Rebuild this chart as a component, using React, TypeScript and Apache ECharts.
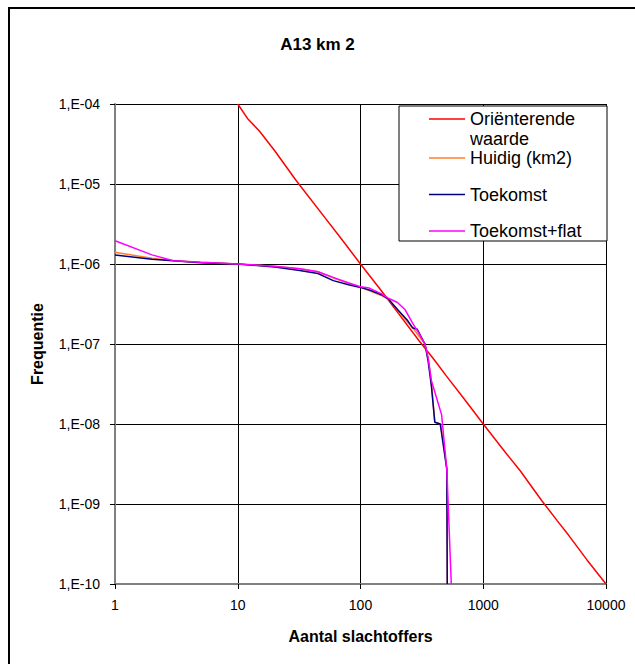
import React, { useEffect, useRef } from "react";
import * as echarts from "echarts";

const seriesNames = ["Oriënterende waarde", "Huidig (km2)", "Toekomst", "Toekomst+flat"];
const seriesColors = ["#FF0000", "#FF7F27", "#000080", "#FF00FF"];

const orienterend: [number, number][] = [
  [10, 1e-4], [12, 6.6e-5], [15, 4.6e-5], [20, 2.6e-5], [30, 1.1e-5], [50, 4e-6], [70, 2.05e-6],
  [100, 1e-6], [150, 4.5e-7], [200, 2.5e-7], [300, 1.1e-7], [400, 6.3e-8], [500, 4e-8], [700, 2.05e-8],
  [1000, 1e-8], [1500, 4.5e-9], [2000, 2.6e-9], [3000, 1.1e-9], [4000, 6.2e-10], [5000, 4e-10],
  [7000, 2e-10], [10000, 1e-10],
];

const huidig: [number, number][] = [
  [1, 1.4e-6], [2, 1.18e-6], [3, 1.1e-6], [5, 1.05e-6], [10, 1.0e-6], [20, 0.93e-6], [32, 0.87e-6],
  [45, 0.8e-6], [60, 0.67e-6], [80, 0.58e-6], [100, 0.51e-6], [120, 0.46e-6], [150, 0.4e-6],
  [170, 0.36e-6], [200, 0.27e-6], [240, 0.19e-6], [270, 0.155e-6], [300, 0.125e-6], [335, 1e-7],
  [360, 6e-8], [380, 3e-8], [403, 1.05e-8], [450, 1e-8], [505, 2.8e-9], [509, 1e-10],
];

const toekomst: [number, number][] = [
  [1, 1.3e-6], [2, 1.15e-6], [3, 1.1e-6], [5, 1.04e-6], [10, 1.0e-6], [20, 0.92e-6], [32, 0.83e-6],
  [45, 0.76e-6], [60, 0.62e-6], [80, 0.55e-6], [100, 0.51e-6], [120, 0.47e-6], [150, 0.41e-6],
  [170, 0.36e-6], [200, 0.27e-6], [240, 0.2e-6], [265, 0.16e-6], [290, 0.153e-6], [335, 1e-7],
  [355, 6.2e-8], [378, 3e-8], [403, 1.05e-8], [446, 1e-8], [505, 2.7e-9], [509, 1e-10],
];

const toekomstFlat: [number, number][] = [
  [1, 1.95e-6], [2, 1.3e-6], [3, 1.1e-6], [5, 1.05e-6], [10, 1.0e-6], [20, 0.94e-6], [32, 0.87e-6],
  [45, 0.8e-6], [60, 0.68e-6], [80, 0.58e-6], [100, 0.52e-6], [118, 0.5e-6], [150, 0.42e-6],
  [170, 0.37e-6], [185, 0.35e-6], [200, 0.33e-6], [230, 0.27e-6], [268, 0.178e-6], [300, 0.135e-6],
  [335, 1e-7], [355, 6.8e-8], [378, 3.5e-8], [458, 1.3e-8], [505, 2.7e-9], [549, 1e-10],
];

const seriesData = [orienterend, huidig, toekomst, toekomstFlat];

const FONT = "'Liberation Sans', Arial, sans-serif";

export default function App() {
  const ref = useRef<HTMLDivElement>(null);
  useEffect(() => {
    if (!ref.current) return;
    const chart = echarts.init(ref.current, null, { renderer: "svg" });
    chart.setOption({
      animation: false,
      backgroundColor: "#fff",
      textStyle: { fontFamily: FONT },
      title: {
        text: "A13 km 2",
        left: "center",
        top: 31,
        textStyle: { fontFamily: FONT, fontSize: 17, fontWeight: "bold", color: "#000" },
      },
      grid: { left: 115, right: 29, top: 104, bottom: 80 },
      xAxis: {
        type: "log",
        logBase: 10,
        min: 1,
        max: 10000,
        name: "Aantal slachtoffers",
        nameLocation: "middle",
        nameGap: 44,
        nameTextStyle: { fontFamily: FONT, fontSize: 16, fontWeight: "bold", color: "#000" },
        axisLine: { show: true, lineStyle: { color: "#808080", width: 2 } },
        axisTick: { show: true, length: 5, lineStyle: { color: "#000" } },
        axisLabel: {
          margin: 14,
          fontFamily: FONT,
          fontSize: 14,
          color: "#000",
          formatter: (v: number) => String(Math.round(v)),
        },
        splitLine: { show: true, lineStyle: { color: "#000", width: 1 } },
      },
      yAxis: {
        type: "log",
        logBase: 10,
        min: 1e-10,
        max: 1e-4,
        name: "Frequentie",
        nameLocation: "middle",
        nameGap: 70,
        nameTextStyle: { fontFamily: FONT, fontSize: 16, fontWeight: "bold", color: "#000" },
        axisLine: { show: true, lineStyle: { color: "#808080", width: 2 } },
        axisTick: { show: true, length: 5, lineStyle: { color: "#000" } },
        axisLabel: {
          margin: 15,
          fontFamily: FONT,
          fontSize: 14,
          color: "#000",
          formatter: (v: number) => {
            const e = Math.round(-Math.log10(v));
            return "1,E-" + String(e).padStart(2, "0");
          },
        },
        splitLine: { show: true, lineStyle: { color: "#000", width: 1 } },
      },
      legend: [
        {
          data: [seriesNames[0]],
          orient: "vertical",
          left: 429,
          top: 89,
          padding: 0,
          icon: "rect",
          itemWidth: 36,
          itemHeight: 1.5,
          formatter: () => "\nOriënterende\nwaarde",
          textStyle: { fontFamily: FONT, fontSize: 18, color: "#000", lineHeight: 20 },
          selectedMode: false,
        },
        {
          data: seriesNames.slice(1),
          orient: "vertical",
          left: 429,
          top: 149,
          padding: 0,
          itemGap: 18.5,
          icon: "rect",
          itemWidth: 36,
          itemHeight: 1.5,
          textStyle: { fontFamily: FONT, fontSize: 18, color: "#000", lineHeight: 18 },
          selectedMode: false,
        },
      ],
      graphic: [
        {
          type: "rect",
          silent: true,
          z: 0,
          shape: { x: 9, y: 8, width: 700, height: 700 },
          style: { fill: "none", stroke: "#000", lineWidth: 2 },
        },
        {
          type: "rect",
          silent: true,
          z: 3,
          shape: { x: 399, y: 106, width: 208, height: 135 },
          style: { fill: "#fff", stroke: "#000", lineWidth: 1 },
        },
      ],
      series: seriesNames.map((name, i) => ({
        name,
        type: "line",
        data: seriesData[i],
        symbol: "none",
        showSymbol: false,
        color: seriesColors[i],
        itemStyle: { color: seriesColors[i] },
        lineStyle: { color: seriesColors[i], width: 1.5 },
        z: 2,
      })),
    });
    return () => chart.dispose();
  }, []);
  return (
    <div
      ref={ref}
      style={{ position: "fixed", left: 0, top: 0, width: 635, height: 664, background: "#fff" }}
    />
  );
}
